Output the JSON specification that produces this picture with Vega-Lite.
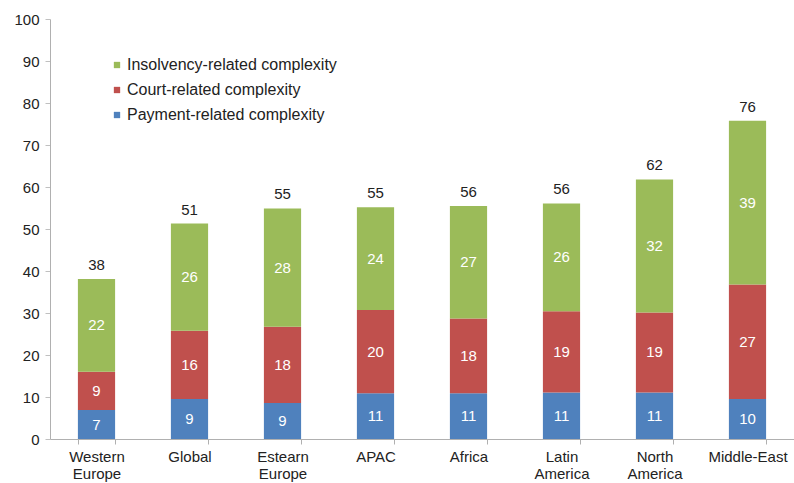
{
  "$schema": "https://vega.github.io/schema/vega-lite/v6.json",
  "width": 744,
  "height": 420,
  "autosize": {"type": "none"},
  "padding": {"left": 50, "top": 19, "right": 0, "bottom": 44},
  "background": "white",
  "config": {
    "view": {"stroke": null},
    "font": "Liberation Sans",
    "axis": {"labelFont": "Liberation Sans", "labelColor": "#222222"},
    "legend": {"labelFont": "Liberation Sans"}
  },
  "datasets": {
    "parts": [
      {"region": "Western Europe", "type": "Payment-related complexity", "k": 1, "value": 6.9, "label": 7},
      {"region": "Western Europe", "type": "Court-related complexity", "k": 2, "value": 9.1, "label": 9},
      {"region": "Western Europe", "type": "Insolvency-related complexity", "k": 3, "value": 22.1, "label": 22},
      {"region": "Global", "type": "Payment-related complexity", "k": 1, "value": 9.5, "label": 9},
      {"region": "Global", "type": "Court-related complexity", "k": 2, "value": 16.3, "label": 16},
      {"region": "Global", "type": "Insolvency-related complexity", "k": 3, "value": 25.5, "label": 26},
      {"region": "Estearn Europe", "type": "Payment-related complexity", "k": 1, "value": 8.6, "label": 9},
      {"region": "Estearn Europe", "type": "Court-related complexity", "k": 2, "value": 18.1, "label": 18},
      {"region": "Estearn Europe", "type": "Insolvency-related complexity", "k": 3, "value": 28.2, "label": 28},
      {"region": "APAC", "type": "Payment-related complexity", "k": 1, "value": 10.9, "label": 11},
      {"region": "APAC", "type": "Court-related complexity", "k": 2, "value": 19.8, "label": 20},
      {"region": "APAC", "type": "Insolvency-related complexity", "k": 3, "value": 24.5, "label": 24},
      {"region": "Africa", "type": "Payment-related complexity", "k": 1, "value": 10.9, "label": 11},
      {"region": "Africa", "type": "Court-related complexity", "k": 2, "value": 17.8, "label": 18},
      {"region": "Africa", "type": "Insolvency-related complexity", "k": 3, "value": 26.8, "label": 27},
      {"region": "Latin America", "type": "Payment-related complexity", "k": 1, "value": 11.1, "label": 11},
      {"region": "Latin America", "type": "Court-related complexity", "k": 2, "value": 19.3, "label": 19},
      {"region": "Latin America", "type": "Insolvency-related complexity", "k": 3, "value": 25.7, "label": 26},
      {"region": "North America", "type": "Payment-related complexity", "k": 1, "value": 11.1, "label": 11},
      {"region": "North America", "type": "Court-related complexity", "k": 2, "value": 19.0, "label": 19},
      {"region": "North America", "type": "Insolvency-related complexity", "k": 3, "value": 31.7, "label": 32},
      {"region": "Middle-East", "type": "Payment-related complexity", "k": 1, "value": 9.5, "label": 10},
      {"region": "Middle-East", "type": "Court-related complexity", "k": 2, "value": 27.3, "label": 27},
      {"region": "Middle-East", "type": "Insolvency-related complexity", "k": 3, "value": 39.0, "label": 39}
    ],
    "totals": [
      {"region": "Western Europe", "total": 38.1, "label": 38},
      {"region": "Global", "total": 51.3, "label": 51},
      {"region": "Estearn Europe", "total": 54.9, "label": 55},
      {"region": "APAC", "total": 55.2, "label": 55},
      {"region": "Africa", "total": 55.5, "label": 56},
      {"region": "Latin America", "total": 56.1, "label": 56},
      {"region": "North America", "total": 61.8, "label": 62},
      {"region": "Middle-East", "total": 75.8, "label": 76}
    ]
  },
  "encoding": {
    "x": {
      "field": "region",
      "type": "nominal",
      "sort": null,
      "scale": {"paddingInner": 0.6, "paddingOuter": 0.3},
      "axis": {
        "title": null,
        "labelAngle": 0,
        "labelFontSize": 15,
        "labelPadding": 5,
        "labelLineHeight": 17,
        "labelExpr": "split(datum.label, ' ')",
        "tickBand": "extent",
        "tickSize": 5,
        "tickColor": "#b0b0b0",
        "domainColor": "#b0b0b0"
      }
    }
  },
  "layer": [
    {
      "data": {"name": "parts"},
      "mark": {"type": "bar"},
      "encoding": {
        "y": {
          "field": "value",
          "type": "quantitative",
          "stack": "zero",
          "scale": {"domain": [0, 100], "nice": false},
          "axis": {
            "title": null,
            "values": [0, 10, 20, 30, 40, 50, 60, 70, 80, 90, 100],
            "grid": false,
            "labelFontSize": 15,
            "labelPadding": 6,
            "tickSize": 5,
            "tickColor": "#c0c0c0",
            "domainColor": "#b0b0b0"
          }
        },
        "color": {
          "field": "type",
          "type": "nominal",
          "scale": {
            "domain": ["Insolvency-related complexity", "Court-related complexity", "Payment-related complexity"],
            "range": ["#9BBB59", "#C0504D", "#4F81BD"]
          },
          "legend": {
            "title": null,
            "orient": "none",
            "legendX": 59,
            "legendY": 38,
            "symbolType": "square",
            "symbolSize": 40,
            "symbolStrokeWidth": 0,
            "labelFontSize": 16,
            "labelColor": "#222222",
            "labelOffset": 2,
            "labelLimit": 0,
            "rowPadding": 9
          }
        },
        "order": {"field": "k", "type": "quantitative"}
      }
    },
    {
      "data": {"name": "parts"},
      "mark": {"type": "text", "color": "white", "fontSize": 15, "baseline": "middle"},
      "encoding": {
        "y": {"field": "value", "type": "quantitative", "stack": "zero", "bandPosition": 0.5},
        "detail": {"field": "type", "type": "nominal"},
        "order": {"field": "k", "type": "quantitative"},
        "text": {"field": "label", "type": "quantitative"}
      }
    },
    {
      "data": {"name": "totals"},
      "mark": {"type": "text", "color": "#222222", "fontSize": 15, "baseline": "alphabetic", "dy": -9},
      "encoding": {
        "y": {"field": "total", "type": "quantitative"},
        "text": {"field": "label", "type": "quantitative"}
      }
    }
  ]
}
